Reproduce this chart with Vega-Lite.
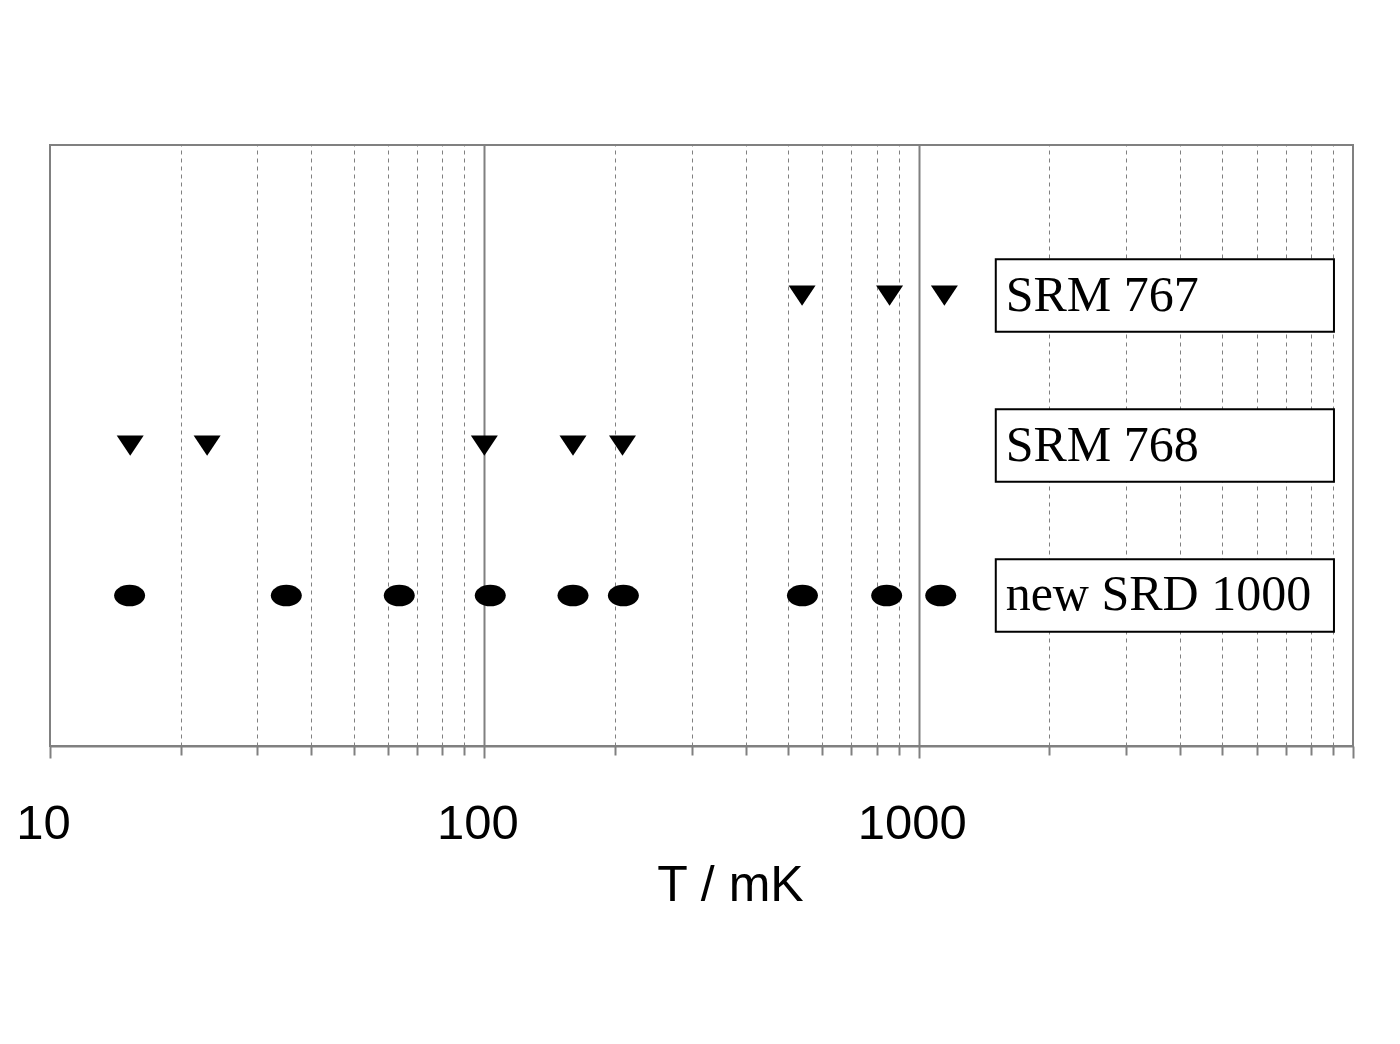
{
  "$schema": "https://vega.github.io/schema/vega-lite/v6.json",
  "width": 1303,
  "height": 601,
  "autosize": {"type": "none"},
  "padding": {"left": 50, "top": 145, "right": 47, "bottom": 298},
  "background": "white",
  "config": {"view": {"stroke": "#808080", "strokeWidth": 2}},
  "datasets": {
    "points": [
      {"series": "SRM 767", "T": 539},
      {"series": "SRM 767", "T": 857},
      {"series": "SRM 767", "T": 1146},
      {"series": "SRM 768", "T": 15.3},
      {"series": "SRM 768", "T": 23.0},
      {"series": "SRM 768", "T": 100},
      {"series": "SRM 768", "T": 160},
      {"series": "SRM 768", "T": 208},
      {"series": "new SRD 1000", "T": 15.25},
      {"series": "new SRD 1000", "T": 35.0},
      {"series": "new SRD 1000", "T": 63.7},
      {"series": "new SRD 1000", "T": 103.2},
      {"series": "new SRD 1000", "T": 160},
      {"series": "new SRD 1000", "T": 209},
      {"series": "new SRD 1000", "T": 540},
      {"series": "new SRD 1000", "T": 844},
      {"series": "new SRD 1000", "T": 1124}
    ],
    "labels": [
      {"series": "SRM 767"},
      {"series": "SRM 768"},
      {"series": "new SRD 1000"}
    ]
  },
  "layer": [
    {
      "data": {"name": "points"},
      "transform": [{"filter": "datum.series != 'new SRD 1000'"}],
      "mark": {"type": "point", "shape": "M-1,-0.75L1,-0.75L0,0.75Z", "filled": true, "fill": "black", "strokeWidth": 0, "opacity": 1, "size": 729},
      "encoding": {
        "x": {
          "field": "T",
          "type": "quantitative",
          "scale": {"type": "log", "domain": [10, 10000], "nice": false},
          "axis": {
            "values": [10, 20, 30, 40, 50, 60, 70, 80, 90, 100, 200, 300, 400, 500, 600, 700, 800, 900, 1000, 2000, 3000, 4000, 5000, 6000, 7000, 8000, 9000, 10000],
            "title": "T / mK",
            "titleFont": "Liberation Sans",
            "titleFontSize": 50,
            "titleFontWeight": "normal",
            "titleColor": "black",
            "titleX": 680,
            "titleY": 154,
            "titleAlign": "center",
            "titleBaseline": "alphabetic",
            "labelFont": "Liberation Sans",
            "labelFontSize": 49,
            "labelColor": "black",
            "labelExpr": "(datum.value == 10 || datum.value == 100 || datum.value == 1000) ? format(datum.value, 'd') : ''",
            "labelFlush": false,
            "labelOverlap": false,
            "labelBound": false,
            "labelOffset": -7,
            "labelBaseline": "alphabetic",
            "labelPadding": 80,
            "domainColor": "#808080",
            "domainWidth": 2,
            "tickColor": "#808080",
            "tickWidth": 2,
            "tickSize": {"condition": {"test": "datum.value == 10 || datum.value == 100 || datum.value == 1000 || datum.value == 10000", "value": 12}, "value": 9},
            "grid": true,
            "gridColor": "#808080",
            "gridWidth": {"condition": {"test": "datum.value == 100 || datum.value == 1000", "value": 2}, "value": 1},
            "gridDash": {"condition": {"test": "datum.value == 10 || datum.value == 100 || datum.value == 1000 || datum.value == 10000", "value": []}, "value": [4, 4]}
          }
        },
        "y": {
          "field": "series",
          "type": "nominal",
          "scale": {"domain": ["SRM 767", "SRM 768", "new SRD 1000"], "paddingInner": 0.517, "paddingOuter": 0.762},
          "axis": null
        }
      }
    },
    {
      "data": {"name": "points"},
      "transform": [{"filter": "datum.series == 'new SRD 1000'"}],
      "mark": {"type": "point", "shape": "M-1,0A1,0.7,0,1,1,1,0A1,0.7,0,1,1,-1,0Z", "filled": true, "fill": "black", "strokeWidth": 0, "opacity": 1, "size": 961},
      "encoding": {
        "x": {"field": "T", "type": "quantitative"},
        "y": {"field": "series", "type": "nominal", "axis": null}
      }
    },
    {
      "data": {"name": "labels"},
      "mark": {"type": "rect", "fill": "white", "stroke": "black", "strokeWidth": 2},
      "encoding": {
        "x": {"datum": 1505, "type": "quantitative"},
        "x2": {"datum": 9040},
        "y": {"field": "series", "type": "nominal", "axis": null}
      }
    },
    {
      "data": {"name": "labels"},
      "mark": {"type": "text", "align": "left", "baseline": "middle", "font": "Liberation Serif", "color": "black", "fontSize": 50},
      "encoding": {
        "x": {"datum": 1586, "type": "quantitative"},
        "y": {"field": "series", "type": "nominal", "axis": null},
        "text": {"field": "series"}
      }
    }
  ]
}
